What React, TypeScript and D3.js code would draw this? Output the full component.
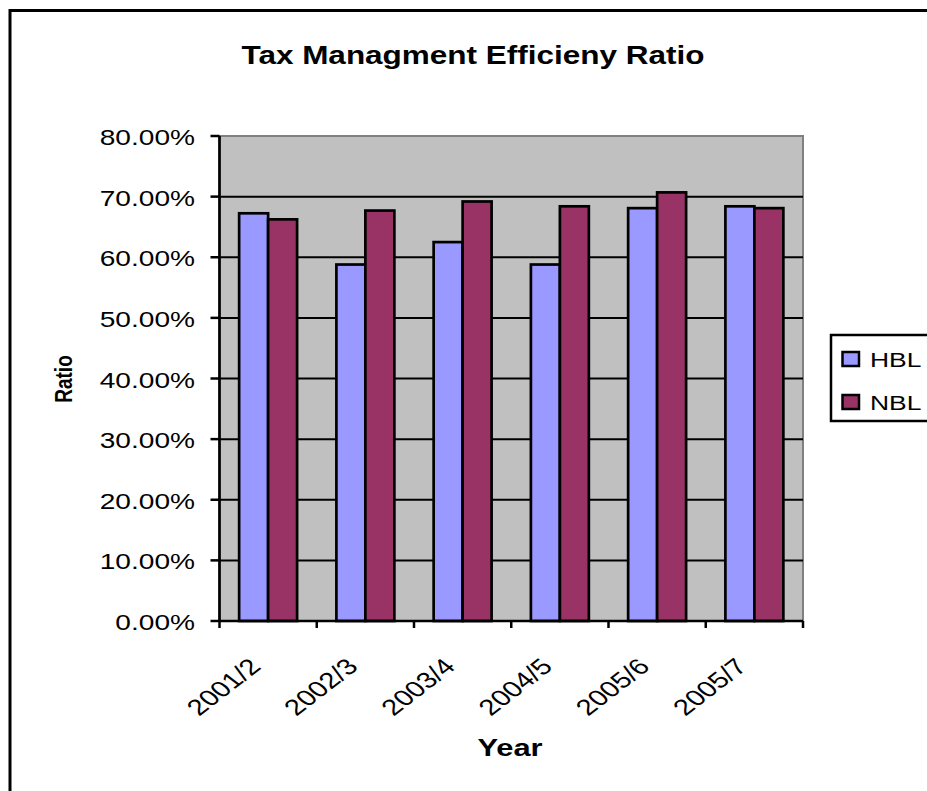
import React from "react";
import * as d3 from "d3";

const categories = ["2001/2", "2002/3", "2003/4", "2004/5", "2005/6", "2005/7"];
const seriesNames = ["HBL", "NBL"];
const hblValues = [0.6725, 0.588, 0.625, 0.588, 0.681, 0.684];
const nblValues = [0.6625, 0.677, 0.692, 0.684, 0.707, 0.681];
const yTicks = [0, 0.1, 0.2, 0.3, 0.4, 0.5, 0.6, 0.7, 0.8];
const colors = ["#9999FF", "#993366"];

const W = 927;
const H = 791;
const plot = { left: 219.5, right: 803, top: 136, bottom: 621 };
const SX = 1.26;
const FONT = "'Liberation Sans', Arial, Helvetica, sans-serif";

export default function App() {
  const y = d3.scaleLinear().domain([0, 0.8]).range([plot.bottom, plot.top]);
  const x0 = d3
    .scaleBand<string>()
    .domain(categories)
    .range([plot.left, plot.right])
    .paddingInner(0.404)
    .paddingOuter(0.202);
  const x1 = d3.scaleBand<string>().domain(seriesNames).range([0, x0.bandwidth()]);
  const step = x0.step();
  const data = [hblValues, nblValues];

  return (
    <svg
      width={W}
      height={H}
      style={{ position: "absolute", left: 0, top: 0, display: "block" }}
      fontFamily={FONT}
    >
      <rect x={0} y={0} width={W} height={H} fill="#ffffff" />
      {/* outer chart border */}
      <rect x={10} y={10.5} width={960} height={820} fill="#ffffff" stroke="#000" strokeWidth={3} />

      {/* title */}
      <text
        transform={`translate(473,64) scale(${SX},1)`}
        textAnchor="middle"
        fontWeight="bold"
        fontSize={25}
        fill="#000"
      >
        Tax Managment Efficieny Ratio
      </text>

      {/* plot area */}
      <rect
        x={plot.left}
        y={plot.top}
        width={plot.right - plot.left}
        height={plot.bottom - plot.top}
        fill="#C0C0C0"
        stroke="#808080"
        strokeWidth={2}
      />
      {/* gridlines */}
      {yTicks
        .filter((t) => t > 0 && t < 0.8)
        .map((t) => (
          <line
            key={"g" + t}
            x1={plot.left}
            x2={plot.right}
            y1={y(t)}
            y2={y(t)}
            stroke="#000"
            strokeWidth={2}
          />
        ))}

      {/* bars */}
      {categories.map((c, i) => (
        <g key={c} transform={`translate(${x0(c)},0)`}>
          {seriesNames.map((s, k) => (
            <rect
              key={s}
              x={x1(s)}
              y={y(data[k][i])}
              width={x1.bandwidth()}
              height={y(0) - y(data[k][i])}
              fill={colors[k]}
              stroke="#000"
              strokeWidth={2.7}
            />
          ))}
        </g>
      ))}

      {/* axes */}
      <line x1={plot.left} x2={plot.left} y1={plot.top} y2={plot.bottom} stroke="#000" strokeWidth={2.7} />
      <line x1={plot.left} x2={plot.right} y1={plot.bottom} y2={plot.bottom} stroke="#000" strokeWidth={2.7} />
      {yTicks.map((t) => (
        <g key={"yt" + t}>
          <line x1={plot.left - 9} x2={plot.left} y1={y(t)} y2={y(t)} stroke="#000" strokeWidth={2.5} />
          <text
            transform={`translate(195,${y(t) + 9}) scale(${SX},1)`}
            textAnchor="end"
            fontSize={22.3}
            fill="#000"
          >
            {(t * 100).toFixed(2) + "%"}
          </text>
        </g>
      ))}
      {d3.range(categories.length + 1).map((i) => (
        <line
          key={"xt" + i}
          x1={plot.left + i * step}
          x2={plot.left + i * step}
          y1={plot.bottom}
          y2={plot.bottom + 7}
          stroke="#000"
          strokeWidth={2.5}
        />
      ))}
      {categories.map((c) => {
        const cx = (x0(c) as number) + x0.bandwidth() / 2;
        return (
          <text
            key={"xl" + c}
            transform={`translate(${cx - 6},668) scale(1.3,1) rotate(-45)`}
            textAnchor="end"
            fontSize={22.5}
            fill="#000"
          >
            {c}
          </text>
        );
      })}

      {/* axis titles */}
      <text
        transform={`translate(510,756) scale(${SX},1)`}
        textAnchor="middle"
        fontWeight="bold"
        fontSize={24.5}
        fill="#000"
      >
        Year
      </text>
      <text
        transform={`translate(72,379) scale(${SX},1) rotate(-90)`}
        textAnchor="middle"
        fontWeight="bold"
        fontSize={19}
        fill="#000"
      >
        Ratio
      </text>

      {/* legend */}
      <rect x={831} y={335} width={140} height={86} fill="#ffffff" stroke="#000" strokeWidth={2.5} />
      {seriesNames.map((s, k) => (
        <g key={"lg" + s}>
          <rect
            x={842.5}
            y={352 + k * 43}
            width={16.5}
            height={14}
            fill={colors[k]}
            stroke="#000"
            strokeWidth={2.5}
          />
          <text
            transform={`translate(870,${367 + k * 43}) scale(${SX},1)`}
            fontSize={21}
            fill="#000"
          >
            {s}
          </text>
        </g>
      ))}
    </svg>
  );
}
